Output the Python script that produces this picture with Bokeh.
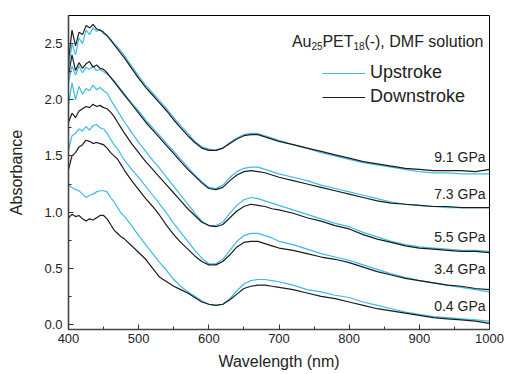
from bokeh.plotting import figure
from bokeh.models import (Range1d, FixedTicker, NumeralTickFormatter, Legend,
                          LegendItem, Label, ColumnDataSource)
from bokeh.core.properties import value
from bokeh.embed import file_html
from bokeh.resources import INLINE

wavelength = [400, 405, 410, 415, 420, 425, 430, 435, 440, 445, 450, 455, 460, 465, 470, 475, 480,
              490, 500, 510, 520, 530, 540, 550, 560, 570, 580, 590, 600, 610, 620, 630, 640, 650,
              660, 670, 680, 690, 700,
              720, 740, 760, 780, 800, 820, 840, 860, 880, 900, 920, 940, 960, 980, 1000]

down_91 = [2.35, 2.62, 2.48, 2.60, 2.58, 2.66, 2.64, 2.67, 2.63, 2.62, 2.60, 2.57, 2.53, 2.49, 2.45, 2.41, 2.37,
           2.28, 2.19, 2.11, 2.04, 1.97, 1.90, 1.82, 1.75, 1.68, 1.62, 1.57, 1.55, 1.55, 1.57, 1.61, 1.65, 1.68,
           1.69, 1.69, 1.67, 1.65, 1.63,
           1.60, 1.57, 1.54, 1.51, 1.48, 1.45, 1.43, 1.41, 1.39, 1.38, 1.37, 1.37, 1.37, 1.36, 1.38]
up_91 = [2.28, 2.50, 2.40, 2.55, 2.50, 2.62, 2.58, 2.64, 2.61, 2.62, 2.59, 2.57, 2.54, 2.50, 2.47, 2.43, 2.39,
         2.30, 2.21, 2.13, 2.06, 1.99, 1.92, 1.84, 1.77, 1.70, 1.63, 1.58, 1.56, 1.55, 1.57, 1.62, 1.66, 1.69,
         1.70, 1.70, 1.68, 1.66, 1.64,
         1.60, 1.57, 1.53, 1.50, 1.47, 1.44, 1.42, 1.40, 1.38, 1.36, 1.35, 1.35, 1.34, 1.34, 1.34]

down_73 = [2.22, 2.40, 2.26, 2.33, 2.28, 2.32, 2.34, 2.29, 2.31, 2.28, 2.27, 2.24, 2.20, 2.16, 2.12, 2.08, 2.04,
           1.96, 1.88, 1.80, 1.73, 1.66, 1.59, 1.52, 1.45, 1.38, 1.32, 1.26, 1.21, 1.20, 1.22, 1.28, 1.33, 1.36,
           1.37, 1.36, 1.35, 1.33, 1.31,
           1.28, 1.25, 1.22, 1.19, 1.16, 1.13, 1.10, 1.08, 1.07, 1.06, 1.05, 1.05, 1.04, 1.04, 1.04]
up_73 = [2.15, 2.30, 2.22, 2.30, 2.24, 2.29, 2.27, 2.30, 2.26, 2.27, 2.25, 2.23, 2.20, 2.17, 2.13, 2.09, 2.05,
         1.97, 1.90, 1.82, 1.75, 1.68, 1.61, 1.54, 1.47, 1.40, 1.33, 1.27, 1.22, 1.21, 1.24, 1.31, 1.36, 1.39,
         1.40, 1.40, 1.38, 1.36, 1.34,
         1.31, 1.28, 1.24, 1.21, 1.18, 1.15, 1.12, 1.09, 1.07, 1.06, 1.05, 1.04, 1.04, 1.04, 1.04]

down_55 = [1.80, 1.88, 1.84, 1.90, 1.92, 1.94, 1.93, 1.96, 1.94, 1.95, 1.93, 1.92, 1.89, 1.85, 1.80, 1.75, 1.70,
           1.61, 1.53, 1.45, 1.38, 1.31, 1.24, 1.17, 1.10, 1.03, 0.97, 0.91, 0.88, 0.87, 0.89, 0.95, 1.01, 1.05,
           1.07, 1.06, 1.05, 1.03, 1.02,
           0.99, 0.95, 0.92, 0.88, 0.85, 0.80, 0.76, 0.73, 0.70, 0.68, 0.67, 0.66, 0.65, 0.65, 0.64]
up_55 = [1.95, 2.15, 2.00, 2.12, 2.05, 2.10, 2.08, 2.13, 2.09, 2.11, 2.08, 2.06, 2.00, 1.95, 1.90, 1.85, 1.80,
         1.71, 1.62, 1.54, 1.46, 1.39, 1.31, 1.23, 1.15, 1.07, 0.99, 0.92, 0.88, 0.88, 0.91, 0.99, 1.06, 1.11,
         1.13, 1.12, 1.10, 1.08, 1.06,
         1.02, 0.98, 0.94, 0.90, 0.87, 0.82, 0.78, 0.74, 0.71, 0.69, 0.68, 0.67, 0.66, 0.66, 0.65]

down_34 = [1.38, 1.50, 1.53, 1.58, 1.60, 1.64, 1.63, 1.61, 1.62, 1.61, 1.60, 1.57, 1.53, 1.50, 1.47, 1.42, 1.37,
           1.28, 1.20, 1.12, 1.05, 0.97, 0.88, 0.80, 0.73, 0.67, 0.61, 0.56, 0.53, 0.53, 0.56, 0.62, 0.69, 0.73,
           0.74, 0.74, 0.72, 0.70, 0.68,
           0.66, 0.63, 0.60, 0.58, 0.55, 0.51, 0.47, 0.44, 0.41, 0.39, 0.37, 0.35, 0.34, 0.32, 0.31]
up_34 = [1.55, 1.68, 1.70, 1.74, 1.72, 1.76, 1.73, 1.77, 1.78, 1.75, 1.74, 1.70, 1.65, 1.60, 1.56, 1.51, 1.46,
         1.38, 1.31, 1.23, 1.15, 1.07, 0.99, 0.90, 0.82, 0.74, 0.66, 0.59, 0.54, 0.54, 0.58, 0.66, 0.74, 0.79,
         0.81, 0.81, 0.79, 0.77, 0.74,
         0.71, 0.67, 0.63, 0.60, 0.57, 0.53, 0.49, 0.45, 0.42, 0.39, 0.37, 0.35, 0.33, 0.31, 0.29]

down_04 = [0.95, 0.98, 0.96, 0.97, 0.94, 0.92, 0.94, 0.93, 0.95, 0.97, 0.97, 0.94, 0.89, 0.84, 0.81, 0.78, 0.76,
           0.70, 0.64, 0.58, 0.50, 0.42, 0.38, 0.34, 0.31, 0.28, 0.24, 0.20, 0.18, 0.17, 0.18, 0.22, 0.27, 0.32,
           0.34, 0.35, 0.35, 0.34, 0.33,
           0.31, 0.28, 0.25, 0.23, 0.20, 0.17, 0.14, 0.12, 0.10, 0.08, 0.06, 0.05, 0.04, 0.03, 0.01]
up_04 = [1.24, 1.22, 1.20, 1.19, 1.16, 1.13, 1.15, 1.16, 1.18, 1.19, 1.19, 1.18, 1.13, 1.09, 1.04, 0.99, 0.96,
         0.88, 0.79, 0.71, 0.63, 0.55, 0.48, 0.40, 0.34, 0.29, 0.25, 0.21, 0.18, 0.17, 0.18, 0.23, 0.30, 0.36,
         0.39, 0.40, 0.40, 0.39, 0.38,
         0.35, 0.31, 0.29, 0.26, 0.24, 0.20, 0.17, 0.14, 0.11, 0.09, 0.07, 0.06, 0.05, 0.04, 0.03]

pressure_labels = ["0.4 GPa", "3.4 GPa", "5.5 GPa", "7.3 GPa", "9.1 GPa"]
pressure_label_y = [0.16, 0.49, 0.78, 1.16, 1.49]

x_ticks = [400, 500, 600, 700, 800, 900, 1000]
x_minor = [450, 550, 650, 750, 850, 950]
y_ticks = [0.0, 0.5, 1.0, 1.5, 2.0, 2.5]
y_minor = [0.25, 0.75, 1.25, 1.75, 2.25]

FONT = "Liberation Sans"
CYAN = "#3dbbe6"
BLACK = "#1c1c1c"

W, H = 504, 373
ML, MR, MT, MB = 68, 15, 15, 44
FW, FH = W - ML - MR, H - MT - MB

p = figure(width=W, height=H, output_backend="svg", toolbar_location=None,
           x_range=Range1d(400, 1000), y_range=Range1d(-0.045, 2.75),
           min_border_left=ML, min_border_right=MR, min_border_top=MT, min_border_bottom=MB)
p.background_fill_color = "white"
p.border_fill_color = "white"
p.outline_line_color = "black"
p.outline_line_width = 1
p.xgrid.visible = False
p.ygrid.visible = False

ups = [up_04, up_34, up_55, up_73, up_91]
downs = [down_04, down_34, down_55, down_73, down_91]
r_up = None
r_down = None
for u, d in zip(ups, downs):
    ru = p.line(wavelength, u, line_color=CYAN, line_width=1.2)
    rd = p.line(wavelength, d, line_color=BLACK, line_width=1.2)
    r_up = r_up or ru
    r_down = r_down or rd

src = ColumnDataSource(dict(x=[1000] * len(pressure_labels), y=pressure_label_y, t=pressure_labels))
p.text(x="x", y="y", text="t", source=src, x_offset=-4, text_align="right",
       text_baseline="middle", text_font=value(FONT), text_font_size="14px", text_color="#222222")

# title with subscripts
pieces = [("(-), DMF solution", "16px", -6, -25.5),
          ("18", "10px", -125, -30),
          ("PET", "16px", -136, -25.5),
          ("25", "10px", -167, -30),
          ("Au", "16px", -178, -25.5)]
for txt, fs, xo, yo in pieces:
    p.add_layout(Label(x=1000, y=2.75, x_offset=xo, y_offset=yo, text=txt, text_align="right",
                       text_baseline="alphabetic", text_font=FONT, text_font_size=fs,
                       text_color="#222222"))

legend = Legend(items=[LegendItem(label="Upstroke", renderers=[r_up]),
                       LegendItem(label="Downstroke", renderers=[r_down])],
                location=(FW - 167, FH - 92), glyph_width=43, glyph_height=20, label_height=20,
                label_standoff=5, spacing=3, padding=0, margin=0,
                label_text_font=FONT, label_text_font_size="18px", label_text_color="#222222",
                border_line_alpha=0, background_fill_alpha=0)
p.add_layout(legend)

for ax in (p.xaxis[0], p.yaxis[0]):
    ax.axis_line_color = "#444444"
    ax.axis_line_width = 1.6
    ax.major_tick_line_color = "#333333"
    ax.minor_tick_line_color = "#333333"
    ax.major_tick_in = 5
    ax.major_tick_out = 0
    ax.minor_tick_in = 3
    ax.minor_tick_out = 0
    ax.major_label_text_font = FONT
    ax.major_label_text_font_size = "13px"
    ax.major_label_text_color = "#222222"
    ax.axis_label_text_font = FONT
    ax.axis_label_text_font_size = "16px"
    ax.axis_label_text_font_style = "normal"
    ax.axis_label_text_color = "#222222"

p.xaxis.ticker = FixedTicker(ticks=x_ticks, minor_ticks=x_minor)
p.yaxis.ticker = FixedTicker(ticks=y_ticks, minor_ticks=y_minor)
p.yaxis.formatter = NumeralTickFormatter(format="0.0")
p.xaxis.axis_label = "Wavelength (nm)"
p.yaxis.axis_label = "Absorbance"
p.xaxis.major_label_standoff = 4
p.yaxis.major_label_standoff = 6
p.yaxis.axis_label_standoff = 16
p.xaxis.axis_label_standoff = 7

open("out.html", "w").write(file_html(p, INLINE))
